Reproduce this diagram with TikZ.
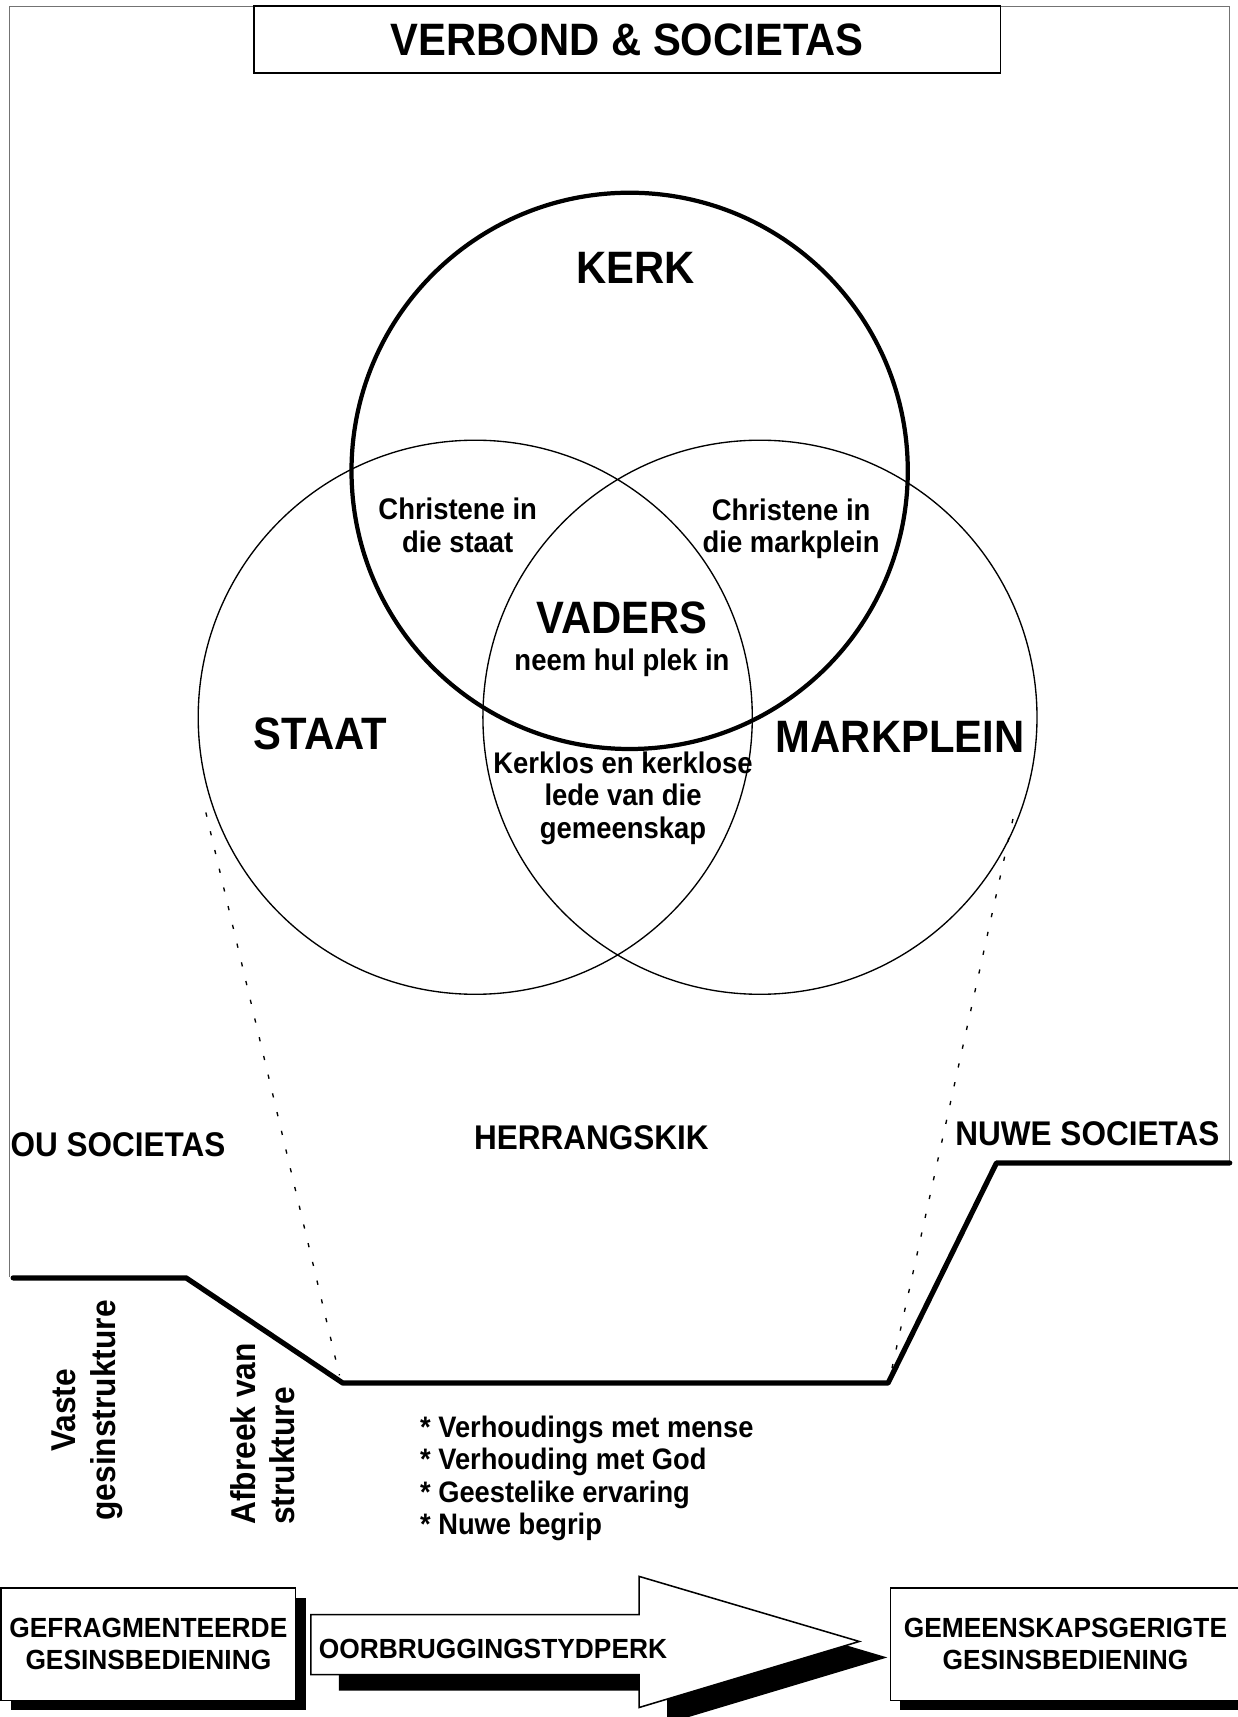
\documentclass[tikz,border=0pt]{standalone}
\usepackage{fontspec}
\usetikzlibrary{shadows}
\newfontfamily\diagfont[FakeStretch=0.92]{Liberation Sans}
\newfontfamily\boxfont[FakeStretch=0.95]{Liberation Sans}
\tikzset{
  bigtxt/.style={inner sep=0pt,font=\diagfont\bfseries\fontsize{11.8}{13}\selectfont},
  midtxt/.style={inner sep=0pt,font=\diagfont\bfseries\fontsize{8.9}{10.2}\selectfont},
  rottxt/.style={inner sep=0pt,rotate=90,font=\diagfont\bfseries\fontsize{8.95}{10.3}\selectfont},
  smalltxt/.style={inner sep=0pt,align=center,font=\diagfont\bfseries\fontsize{7.75}{8.5}\selectfont},
  listtxt/.style={inner sep=0pt,align=left,font=\diagfont\bfseries\fontsize{7.7}{8.45}\selectfont},
  boxtxt/.style={font=\boxfont\bfseries\fontsize{7.2}{8.4}\selectfont},
  framelines/.style={draw=black!55,line width=0.3pt},
  ring/.style={line width=0.35pt},
  dotline/.style={line width=0.35pt,dash pattern=on 1.1pt off 3.9pt},
  endbox/.style={draw,fill=white,line width=0.4pt,inner sep=0pt,align=center,minimum height=1.03cm,boxtxt,
    drop shadow={shadow xshift=0.09cm,shadow yshift=-0.09cm,fill=black,opacity=1}}
}
\begin{document}
\begin{tikzpicture}
\useasboundingbox (0,0) rectangle (11.30,-15.68);
\draw[framelines] (0.09,-11.66) -- (0.09,-0.06) -- (11.225,-0.06) -- (11.225,-10.62);
\node[draw,fill=white,line width=0.4pt,minimum width=6.815cm,minimum height=0.612cm,bigtxt] (titel) at (5.7275,-0.361) {VERBOND \& SOCIETAS};

\draw[line width=1.1pt] (5.75,-4.30) circle (2.54);
\draw[ring] (4.34,-6.55) circle (2.53) (6.94,-6.55) circle (2.53);

\node[bigtxt] (kerk) at (5.805,-2.45) {KERK};
\node[bigtxt] (vaders) at (5.68,-5.64) {VADERS};
\node[bigtxt] (staat) at (2.925,-6.70) {STAAT};
\node[bigtxt] (markplein) at (8.22,-6.73) {MARKPLEIN};
\node[smalltxt] (kerkstaat) at (4.18,-4.80) {Christene in\\die staat};
\node[smalltxt] (kerkmark) at (7.225,-4.83) {Christene in\\die markplein};
\node[smalltxt] (plek) at (5.68,-6.05) {neem hul plek in};
\node[smalltxt] (kerklos) at (5.69,-7.29) {Kerklos en kerklose\\lede van die\\gemeenskap};

\node[midtxt,anchor=west] (ou) at (0.09,-10.45) {OU SOCIETAS};
\node[midtxt] (herrangskik) at (5.40,-10.39) {HERRANGSKIK};
\node[midtxt] (nuwe) at (9.93,-10.35) {NUWE SOCIETAS};

\coordinate (vas) at (0.12,-11.67);
\coordinate (breek) at (1.70,-11.67);
\coordinate (laag) at (3.13,-12.63);
\coordinate (styg) at (8.11,-12.63);
\coordinate (nuut) at (9.10,-10.62);
\coordinate (regs) at (11.23,-10.62);
\draw[line width=1.35pt,line cap=round,line join=round] (vas) -- (breek) -- (laag) -- (styg) -- (nuut) -- (regs);

\coordinate (staatrand) at (1.88,-7.42);
\coordinate (staatvoet) at (3.10,-12.56);
\coordinate (markrand) at (9.25,-7.48);
\coordinate (markvoet) at (8.14,-12.52);
\draw[dotline] (staatrand) -- (staatvoet);
\draw[dotline] (markrand) -- (markvoet);

\node[rottxt,align=center] (vaste) at (0.795,-12.88) {Vaste\\gesinstrukture};
\node[rottxt,align=left,anchor=west] (afbreek) at (2.40,-13.93) {Afbreek van\\strukture};
\node[listtxt,anchor=west] (punte) at (3.83,-13.50) {* Verhoudings met mense\\* Verhouding met God\\* Geestelike ervaring\\* Nuwe begrip};

\node[endbox,minimum width=2.69cm] (oud) at (1.355,-15.015) {GEFRAGMENTEERDE\\GESINSBEDIENING};
\fill[xshift=0.256cm,yshift=-0.146cm] (2.838,-14.744) -- (5.837,-14.744) -- (5.837,-14.396) -- (7.847,-14.99) -- (5.837,-15.593) -- (5.837,-15.292) -- (2.838,-15.292) -- cycle;
\draw[fill=white,line width=0.4pt] (2.838,-14.744) -- (5.837,-14.744) -- (5.837,-14.396) -- (7.847,-14.99) -- (5.837,-15.593) -- (5.837,-15.292) -- (2.838,-15.292) -- cycle;
\node[boxtxt,inner sep=0pt,anchor=west] (oorbrug) at (2.906,-15.055) {OORBRUGGINGSTYDPERK};
\node[endbox,minimum width=3.2cm] (nuwebed) at (9.73,-15.015) {GEMEENSKAPSGERIGTE\\GESINSBEDIENING};
\end{tikzpicture}
\end{document}
